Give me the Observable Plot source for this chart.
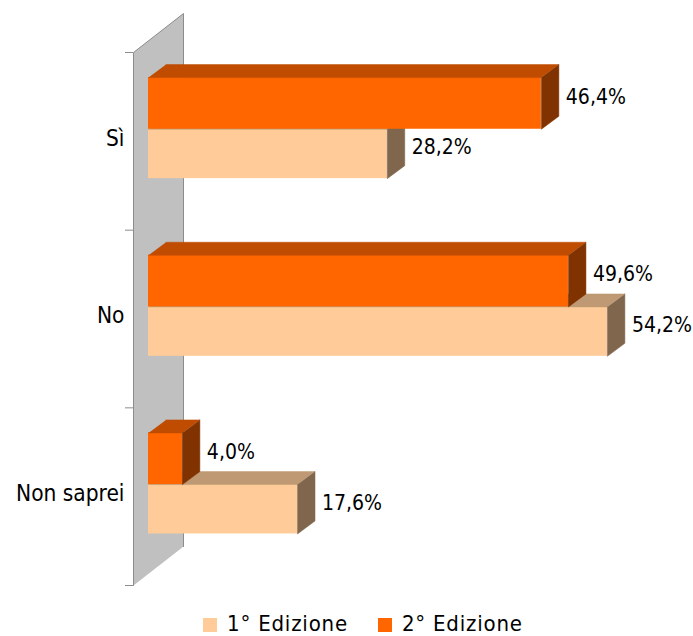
<!DOCTYPE html>
<html><head><meta charset="utf-8">
<script src="https://cdn.jsdelivr.net/npm/d3@7"></script>
<script src="https://cdn.jsdelivr.net/npm/@observablehq/plot@0.6"></script>
<style>
body{margin:0;background:#fff;font-family:"DejaVu Sans Condensed","DejaVu Sans",sans-serif;font-stretch:condensed;color:#000;}
#legend{display:flex;align-items:center;padding-left:203px;height:26px;font-size:22px;padding-top:10px;}
.item{display:flex;align-items:center;margin-right:30px;letter-spacing:0.8px}
.sw{width:14px;height:14px;margin-right:10px;margin-top:3px}
svg text{font-stretch:condensed;}
</style></head><body>
<div id="chart"></div><div id="legend"></div>
<script>
// ---- data ----
const categories = ["Sì", "No", "Non saprei"];
const seriesNames = ["1° Edizione", "2° Edizione"];
const edizione1 = [28.2, 54.2, 17.6];
const edizione2 = [46.4, 49.6, 4.0];
const seriesValues = [edizione1, edizione2];
const frontColors = ["#FFCC99", "#FF6600"];
const topColors = ["#BF9973", "#BF4C00"];
const sideColors = ["#80664D", "#803300"];

// ---- layout ----
const W = 693, H = 600;
const xDomain = [0, 60], xRange = [148, 656];
const yDomain = [0, 3], yRange = [52, 585];
const ux = (xDomain[1] - xDomain[0]) / (xRange[1] - xRange[0]);
const uy = (yDomain[1] - yDomain[0]) / (yRange[1] - yRange[0]);
const depthX = 17.5 * ux, depthY = 13 * uy;
const wallX0 = -15 * ux, wallX1 = 35 * ux, wallDY = 39 * uy;
const slots = [[0.432, 0.71], [0.141, 0.432]];

const rows = [];
seriesValues.forEach((vals, s) => vals.forEach((v, i) =>
  rows.push({s, i, v, y1: i + slots[s][0], y2: i + slots[s][1],
             label: v.toFixed(1).replace(".", ",") + "%"})));

function faces(s) {
  const out = [];
  rows.filter(r => r.s === s).forEach(r => {
    const t = "t" + s + r.i, sd = "s" + s + r.i;
    [[0, r.y1], [r.v, r.y1], [r.v + depthX, r.y1 - depthY], [depthX, r.y1 - depthY]]
      .forEach(([x, y]) => out.push({id: t, c: topColors[s], x, y}));
    [[r.v, r.y1], [r.v, r.y2], [r.v + depthX, r.y2 - depthY], [r.v + depthX, r.y1 - depthY]]
      .forEach(([x, y]) => out.push({id: sd, c: sideColors[s], x, y}));
  });
  return out;
}
const wall = [[wallX0, 0], [wallX1, -wallDY], [wallX1, 3 - wallDY], [wallX0, 3]]
  .map(([x, y]) => ({x, y}));

const marks = [
  Plot.line(wall, {x: "x", y: "y", fill: "#C0C0C0", stroke: "none"}),
  Plot.line([wall[3], wall[0], wall[1], wall[2]], {x: "x", y: "y", stroke: "#8C8C8C", strokeWidth: 1}),
  Plot.axisY({ticks: [0, 1, 2, 3], tickSize: 8, tickFormat: () => "", label: null, stroke: "#8C8C8C"}),
  Plot.axisY({ticks: [0.5, 1.5, 2.5], tickSize: 0, tickPadding: 9, dy: -3, label: null,
              tickFormat: d => categories[Math.floor(d)], fontSize: 22.5, fill: "#000"})
];
[0, 1].forEach(s => {
  marks.push(Plot.rect(rows.filter(r => r.s === s), {x1: 0, x2: "v", y1: "y1", y2: "y2", fill: frontColors[s]}));
  marks.push(Plot.line(faces(s), {x: "x", y: "y", z: "id", fill: "c", stroke: "c", strokeWidth: 0.5}));
});
marks.push(Plot.text(rows, {x: d => d.v + depthX, y: d => (d.y1 + d.y2) / 2 - depthY / 2,
  text: "label", textAnchor: "start", dx: 7, fontSize: 21, fill: "#000"}));

const chart = Plot.plot({
  width: W, height: H,
  marginLeft: 133, marginTop: 10, marginBottom: 10, marginRight: 10,
  style: {fontFamily: "'DejaVu Sans Condensed', 'DejaVu Sans', sans-serif", background: "#fff"},
  x: {domain: xDomain, range: xRange, axis: null},
  y: {domain: yDomain, range: yRange, axis: null},
  marks
});
document.getElementById("chart").appendChild(chart);

const legend = document.getElementById("legend");
seriesNames.forEach((n, s) => {
  const it = document.createElement("div"); it.className = "item";
  const sw = document.createElement("div"); sw.className = "sw"; sw.style.background = frontColors[s];
  const tx = document.createElement("span"); tx.textContent = n;
  it.appendChild(sw); it.appendChild(tx); legend.appendChild(it);
});
</script></body></html>
